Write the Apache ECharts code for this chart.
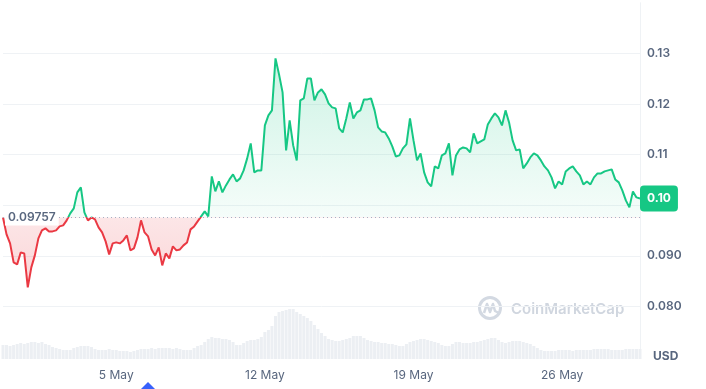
<!DOCTYPE html>
<html><head><meta charset="utf-8">
<script src="https://cdn.jsdelivr.net/npm/echarts@6/dist/echarts.min.js"></script>
<style>html,body{margin:0;padding:0;background:#fff}#c{width:706px;height:389px}</style>
</head><body><div id="c"></div>
<script>
// ---- data ----
const startTime = Date.UTC(2024, 3, 29, 16, 0, 0);   // first sample
const stepHours = 4;                                  // sampling step
const baseline = 0.09757;                             // opening price of the period

const price = [
0.09757,0.09423,0.09245,0.08870,0.08830,0.09067,0.09047,0.08375,0.08771,0.09008,
0.09344,0.09502,0.09542,0.09482,0.09482,0.09502,0.09581,0.09601,0.09700,0.09838,
0.09937,0.10253,0.10352,0.09858,0.09700,0.09759,0.09719,0.09561,0.09462,0.09285,
0.09028,0.09245,0.09265,0.09245,0.09304,0.09403,0.09107,0.09146,0.09364,0.09700,
0.09462,0.09383,0.09126,0.09008,0.09166,0.08810,0.09047,0.08949,0.09186,0.09107,
0.09126,0.09206,0.09265,0.09522,0.09581,0.09680,0.09779,0.09877,0.09779,0.10569,
0.10273,0.10470,0.10253,0.10391,0.10510,0.10609,0.10470,0.10530,0.10688,0.10925,
0.11221,0.10648,0.10688,0.10688,0.11577,0.11775,0.11874,0.12901,0.12585,0.12229,
0.11083,0.11676,0.11182,0.10885,0.12071,0.12111,0.12506,0.12506,0.12071,0.12229,
0.12289,0.12190,0.12012,0.11933,0.11913,0.11518,0.11439,0.11715,0.12032,0.11715,
0.11834,0.11874,0.12091,0.12091,0.12111,0.11874,0.11538,0.11458,0.11439,0.11320,
0.11162,0.10964,0.10984,0.11123,0.11202,0.11715,0.11281,0.10885,0.11024,0.10648,
0.10451,0.10372,0.10767,0.10727,0.10984,0.11024,0.11221,0.10589,0.10984,0.11103,
0.11142,0.11123,0.11043,0.11419,0.11221,0.11261,0.11300,0.11597,0.11715,0.11814,
0.11735,0.11577,0.11874,0.11636,0.11281,0.11083,0.11103,0.10727,0.10826,0.10945,
0.11024,0.10984,0.10885,0.10767,0.10688,0.10549,0.10332,0.10470,0.10411,0.10668,
0.10727,0.10767,0.10668,0.10589,0.10411,0.10470,0.10411,0.10549,0.10628,0.10628,
0.10668,0.10688,0.10708,0.10510,0.10451,0.10292,0.10095,0.09957,0.10273,0.10154,
0.10134
];

// trading volume (millions USD)
const volume = [
28,28,26,28,30,32,30,32,34,34,32,34,30,28,24,22,20,18,18,18,
22,24,26,26,26,24,20,18,18,18,20,18,18,16,16,16,14,16,18,20,
20,20,22,20,22,22,22,22,20,22,20,18,18,18,22,26,28,34,40,44,
42,42,40,40,38,34,28,28,32,36,38,38,40,44,54,58,66,86,94,96,
98,100,100,94,90,86,82,76,68,60,52,46,40,38,36,36,38,40,42,46,
46,46,42,38,36,34,34,32,32,30,30,28,26,26,30,34,36,38,40,40,
38,36,34,32,28,26,26,30,34,34,32,32,32,34,34,36,38,40,42,42,
38,34,32,34,36,36,36,34,32,30,26,22,18,16,16,16,16,18,18,18,
18,16,18,18,18,18,18,20,20,20,20,20,18,18,18,18,20,20,20,20,
20
];

const yTicks = [0.08, 0.09, 0.10, 0.11, 0.12, 0.13];
const yTickLabels = ['0.080', '0.090', '0.10', '0.11', '0.12', '0.13'];
const xTickDates = [Date.UTC(2024,4,5), Date.UTC(2024,4,12), Date.UTC(2024,4,19), Date.UTC(2024,4,26)];
const xTickLabels = ['5 May', '12 May', '19 May', '26 May'];

// ---- build ----
const H = 3600 * 1000;
const times = price.map((_, i) => startTime + i * stepHours * H);
const endTime = times[times.length - 1];
const last = price[price.length - 1];
const maxV = Math.max(...price), minV = Math.min(...price);
const frac = (maxV - baseline) / (maxV - minV);

const FONT = 'Inter, "Noto Sans", sans-serif';
const GREEN = '#16c784', RED = '#ea3943', GREY = '#58667e';

const chart = echarts.init(document.getElementById('c'), null, {renderer: 'canvas'});
chart.setOption({
  animation: false,
  backgroundColor: '#fff',
  grid: [
    {left: 3, right: 66, top: 2.8, bottom: 32},
    {left: 3, right: 66, top: 259, bottom: 30}
  ],
  xAxis: [
    {type: 'value', gridIndex: 0, min: startTime, max: endTime, show: false},
    {type: 'value', gridIndex: 1, min: startTime, max: endTime,
     axisLine: {show: false}, axisTick: {show: false}, splitLine: {show: false},
     axisLabel: {
       customValues: xTickDates, color: GREY, fontSize: 12, fontFamily: FONT, margin: 10,
       formatter: v => { const k = xTickDates.findIndex(t => Math.abs(t - v) < 1000); return k >= 0 ? xTickLabels[k] : ''; }
     }}
  ],
  yAxis: [
    {type: 'value', gridIndex: 0, position: 'right', min: 0.07, max: 0.14, interval: 0.01,
     axisLine: {show: true, lineStyle: {color: '#eff2f5'}}, axisTick: {show: false},
     splitLine: {show: true, showMinLine: false, showMaxLine: false, lineStyle: {color: '#eff2f5', width: 1}},
     axisLabel: {
       color: GREY, fontSize: 12, fontWeight: 600, fontFamily: FONT, margin: 7,
       formatter: v => { const k = yTicks.findIndex(t => Math.abs(t - v) < 1e-7); return k >= 0 ? yTickLabels[k] : ''; }
     }},
    {type: 'value', gridIndex: 1, min: 0, max: 200, show: false}
  ],
  visualMap: {
    show: false, type: 'piecewise', seriesIndex: 0, dimension: 1,
    pieces: [{gte: 0, lt: baseline, color: RED}, {gte: baseline, lte: 1, color: GREEN}]
  },
  series: [
    {
      type: 'line', xAxisIndex: 0, yAxisIndex: 0, z: 3,
      data: price.map((v, i) => [times[i], v]),
      symbol: 'none', showSymbol: false,
      lineStyle: {width: 2},
      areaStyle: {
        origin: baseline,
        color: new echarts.graphic.LinearGradient(0, 0, 0, 1, [
          {offset: 0, color: 'rgba(22,199,132,0.30)'},
          {offset: frac, color: 'rgba(22,199,132,0.06)'},
          {offset: frac, color: 'rgba(234,57,67,0.18)'},
          {offset: 1, color: 'rgba(234,57,67,0.30)'}
        ])
      },
      markLine: {
        symbol: 'none', silent: true, animation: false, precision: 6,
        data: [
          {yAxis: baseline,
           lineStyle: {color: '#a6b0c3', type: [1, 3], width: 1},
           label: {show: true, position: 'insideStart', distance: 2,
                   formatter: () => String(baseline),
                   color: GREY, fontSize: 12, fontWeight: 600, fontFamily: FONT,
                   backgroundColor: '#fff', padding: [2, 3]}},
          {yAxis: last,
           lineStyle: {color: 'rgba(0,0,0,0)', width: 1, type: 'solid'},
           label: {show: true, position: 'end', distance: 0,
                   formatter: () => last.toFixed(2),
                   color: '#fff', fontSize: 12, fontWeight: 700, fontFamily: FONT,
                   backgroundColor: GREEN, borderRadius: 4, padding: [7, 7]}}
        ]
      }
    },
    {
      type: 'bar', xAxisIndex: 1, yAxisIndex: 1, silent: true, z: 1,
      data: volume.map((v, i) => [times[i], v]),
      barWidth: 3, itemStyle: {color: '#eceff3'}
    }
  ],
  graphic: [
    {type: 'group', silent: true, children: [
      {type: 'circle', shape: {cx: 490, cy: 308, r: 10.5}, style: {fill: 'none', stroke: '#d3d9e2', lineWidth: 3}},
      {type: 'polyline', shape: {points: [[484, 313], [487, 304], [490, 312], [493, 304], [495, 311], [499, 313]]},
       style: {fill: 'none', stroke: '#d3d9e2', lineWidth: 2.5, lineJoin: 'round'}},
      {type: 'text', x: 511, y: 309, style: {text: 'CoinMarketCap', fill: '#d0d6df', font: '600 15px ' + FONT, textVerticalAlign: 'middle'}}
    ]},
    {type: 'text', x: 653, y: 356, silent: true,
     style: {text: 'USD', fill: GREY, font: '700 12px ' + FONT, textVerticalAlign: 'middle'}},
    {type: 'polygon', silent: true, shape: {points: [[141, 389], [148, 382], [155, 389]]}, style: {fill: '#3861fb'}}
  ]
});
</script></body></html>
